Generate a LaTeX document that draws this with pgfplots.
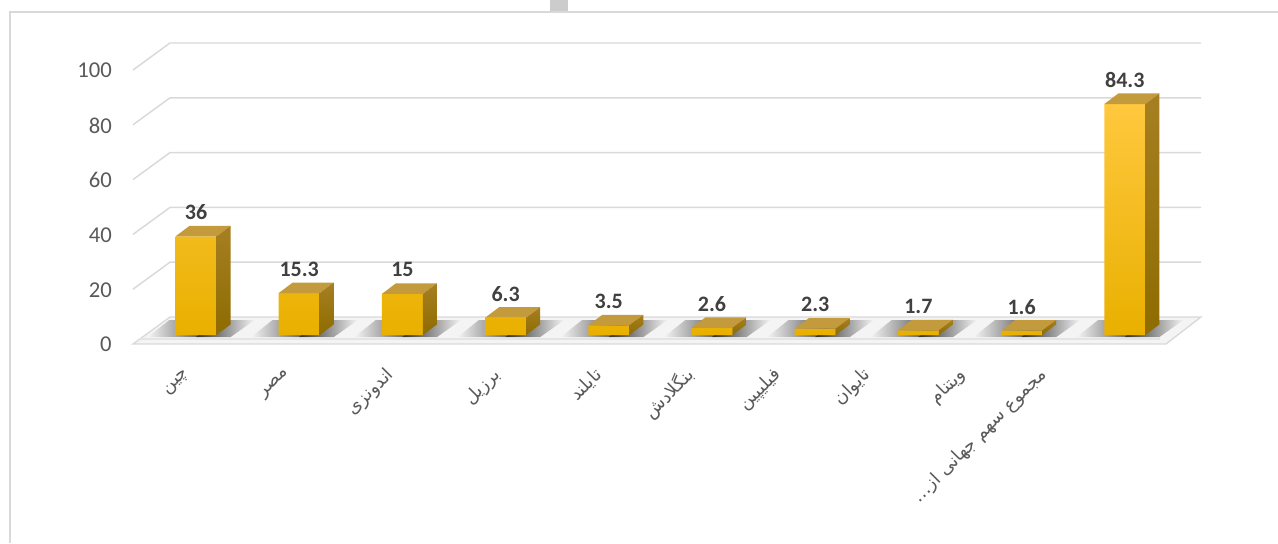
\documentclass[border=0pt]{standalone}
\usepackage{pgfplots}
\usepackage{pgfplotstable}
\pgfplotsset{compat=1.18}
\usepackage{fontspec}
\setmainfont{Carlito}
\newfontfamily\arabicfont[Script=Arabic]{DejaVu Sans}
\TeXXeTstate=1
\definecolor{gridc}{HTML}{D9D9D9}
\definecolor{floorc}{HTML}{F4F4F4}
\definecolor{tickc}{HTML}{595959}
\definecolor{labc}{HTML}{404040}
\definecolor{ftop}{HTML}{FFC83E}
\definecolor{fmid}{HTML}{FFC000}
\definecolor{fbot}{HTML}{E9B000}
\definecolor{topf}{HTML}{C39A3C}
\definecolor{sidet}{HTML}{A67F22}
\definecolor{sideb}{HTML}{8E6C00}
\definecolor{shadc}{HTML}{303030}

\pgfplotstableread{
x y
0 36
1 15.3
2 15
3 6.3
4 3.5
5 2.6
6 2.3
7 1.7
8 1.6
9 84.3
}\datatable

\begin{document}
\begin{tikzpicture}
\useasboundingbox (0,0) rectangle (958.5pt,407.25pt);
\begin{scope}[yshift=407.25pt, x=0.75pt, y=-0.75pt]
  \draw[gridc, line width=1pt] (10,543) -- (10,12) -- (1278,12);
  \fill[gray!40] (550,0) rectangle (568,11);
  \fill[floorc] (133,344) -- (1166,344) -- (1201,317) -- (170,317) -- cycle;
  \draw[gridc, line width=1pt] (133,344) -- (1166,344) -- (1201,317) -- (170,317) -- cycle;
  \draw[gridc!70, line width=0.8pt] (140,339) -- (1160,339);
  \foreach \v in {20,40,...,100}
    \draw[gridc, line width=1.1pt] (133,{344-2.74*\v}) -- (170,{317-2.74*\v}) -- (1201,{317-2.74*\v});
\end{scope}
\begin{axis}[
  at={(108.3pt,156pt)}, anchor=south west,
  scale only axis, width=774pt, height=205.5pt,
  xmin=-0.5, xmax=9.5, ymin=0, ymax=100,
  enlargelimits=false, clip=false, clip marker paths=true,
  axis line style={draw=none}, major tick length=0pt,
  /pgf/number format/assume math mode=true,
  ytick={0,20,...,100},
  yticklabel style={anchor=east, inner sep=0pt, xshift=-24.3pt, yshift=-7.2pt,
    font=\fontsize{17}{20}\selectfont, text=tickc},
  xtick={-0.019,0.950,1.948,2.984,3.963,4.855,5.698,6.570,7.490,8.275},
  xticklabels={
    {\arabicfont\beginR چین\endR},
    {\arabicfont\beginR مصر\endR},
    {\arabicfont\beginR اندونزی\endR},
    {\arabicfont\beginR برزیل\endR},
    {\arabicfont\beginR تایلند\endR},
    {\arabicfont\beginR بنگلادش\endR},
    {\arabicfont\beginR فیلیپین\endR},
    {\arabicfont\beginR تایوان\endR},
    {\arabicfont\beginR ویتنام\endR},
    {\arabicfont\beginR مجموع سهم جهانی از…\endR}},
  xticklabel style={xshift=-4.5pt, yshift=-27.8pt, rotate=45, anchor=east, inner sep=0pt,
    font=\fontsize{13.5}{16}\selectfont, text=tickc},
]
% floor shadows
\addplot[only marks, scatter, mark=*,
  scatter/@pre marker code/.code={%
    \pgfscope
    \path[draw=none, left color=floorc, right color=shadc]
      (-36pt,-1.5pt) -- (0.3pt,-1.5pt) -- (16.3pt,11.25pt) -- (-20pt,11.25pt) -- cycle;
    \path[draw=none, left color=shadc, right color=floorc]
      (0pt,-1.5pt) -- (26pt,-1.5pt) -- (44pt,11.25pt) -- (16pt,11.25pt) -- cycle;
    \pgfsetfillopacity{0}\pgfsetstrokeopacity{0}},
  scatter/@post marker code/.code={\endpgfscope}]
  table[x=x, y expr=0] {\datatable};
% front faces
\addplot[ybar, bar width=30.75pt, draw=none,
  top color=ftop, middle color=fmid, bottom color=fbot,
  nodes near coords,
  every node near coord/.append style={anchor=center, yshift=18pt,
    font=\bfseries\fontsize{16.5}{19}\selectfont, text=labc}]
  table[x=x, y=y] {\datatable};
% top and side faces
\addplot[only marks, scatter, mark=*,
  visualization depends on={rawy \as \rawy},
  scatter/@pre marker code/.code={%
    \pgfscope
    \pgfmathsetmacro\H{\rawy*2.055}%
    \path[draw=none, fill=topf] (-15.375pt,0pt) -- (15.375pt,0pt) -- (25.875pt,7.9pt) -- (-4.875pt,7.9pt) -- cycle;
    \path[draw=none, top color=sidet, bottom color=sideb]
      (15.375pt,0pt) -- (25.875pt,7.9pt) -- (25.875pt,7.9pt-\H pt) -- (15.375pt,-\H pt) -- cycle;
    \pgfsetfillopacity{0}\pgfsetstrokeopacity{0}},
  scatter/@post marker code/.code={\endpgfscope}]
  table[x=x, y=y] {\datatable};
\end{axis}
\end{tikzpicture}
\end{document}
